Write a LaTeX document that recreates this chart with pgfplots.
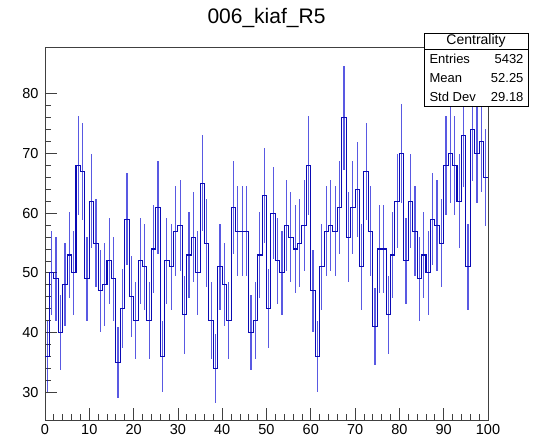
\documentclass[border=0pt]{standalone}
\usepackage{pgfplots}
\usepackage{pgfplotstable}
\usepackage{fontspec}
\setmainfont{Liberation Sans}
\pgfplotsset{compat=1.18}
\definecolor{histcol}{RGB}{10,10,180}
\definecolor{errcol}{RGB}{0,0,210}
\pgfplotstableread{
x y
0 36
1 50
2 49
3 40
4 48
5 53
6 50
7 68
8 67
9 49
10 62
11 55
12 47
13 48
14 52
15 49
16 35
17 44
18 59
19 46
20 42
21 52
22 51
23 42
24 54
25 61
26 36
27 52
28 51
29 57
30 58
31 43
32 53
33 56
34 50
35 65
36 55
37 42
38 34
39 51
40 48
41 42
42 61
43 57
44 57
45 57
46 40
47 42
48 53
49 63
50 44
51 60
52 52
53 50
54 58
55 56
56 54
57 55
58 58
59 68
60 47
61 36
62 51
63 57
64 58
65 57
66 61
67 76
68 56
69 61
70 64
71 51
72 67
73 57
74 41
75 54
76 54
77 43
78 53
79 62
80 70
81 52
82 62
83 57
84 49
85 53
86 50
87 59
88 58
89 55
90 68
91 70
92 68
93 62
94 73
95 51
96 74
97 70
98 72
99 66
100 66
}\histdata
\begin{document}
\begin{tikzpicture}[x=1pt,y=1pt]
\useasboundingbox (0,0) rectangle (547,440);
\begin{axis}[
  at={(45pt,20pt)}, anchor=south west,
  scale only axis, width=443pt, height=372.7pt,
  xmin=0, xmax=100, ymin=25.35, ymax=87.8,
  xtick={0,10,...,100}, ytick={30,40,...,80},
  minor tick num=4,
  tick align=inside,
  xtick pos=lower, ytick pos=left,
  major tick length=12pt, minor tick length=6pt,
  axis line style={black!75, line width=0.9pt},
  tick style={black!75, line width=0.8pt},
  tick label style={font=\fontsize{14.5}{16}\selectfont},
  /pgf/number format/assume math mode=true,
  xticklabel style={yshift=-1pt},
  yticklabel style={xshift=-3pt},
  clip=true,
]
\addplot[errcol, draw=none, mark=none, forget plot,
  skip coords between index={100}{101},
  error bars/.cd, y dir=both, y explicit, error mark=none,
  error bar style={draw=errcol, draw opacity=0.65, line width=1.2pt}]
  table[x expr=\thisrow{x}+0.5, y=y, y error expr={sqrt(\thisrow{y})}] {\histdata};
\addplot[histcol, line width=1.05pt, const plot mark left, mark=none] table[x=x, y=y] {\histdata};
\end{axis}
\node[font=\fontsize{21}{24}\selectfont] at (266.5,422) {006\_kiaf\_R5};
\draw[black, line width=0.9pt, fill=white] (424,334) rectangle (528,407);
\draw[black, line width=0.9pt] (424,390.5) -- (528,390.5);
\node[font=\fontsize{14}{16}\selectfont] at (476,398.8) {Centrality};
\node[font=\fontsize{13}{15}\selectfont, anchor=west] at (426,381.1) {Entries};
\node[font=\fontsize{13}{15}\selectfont, anchor=east] at (527,381.1) {5432};
\node[font=\fontsize{13}{15}\selectfont, anchor=west] at (426,362.3) {Mean};
\node[font=\fontsize{13}{15}\selectfont, anchor=east] at (527,362.3) {52.25};
\node[font=\fontsize{13}{15}\selectfont, anchor=west] at (426,343.4) {Std Dev};
\node[font=\fontsize{13}{15}\selectfont, anchor=east] at (527,343.4) {29.18};
\end{tikzpicture}
\end{document}
